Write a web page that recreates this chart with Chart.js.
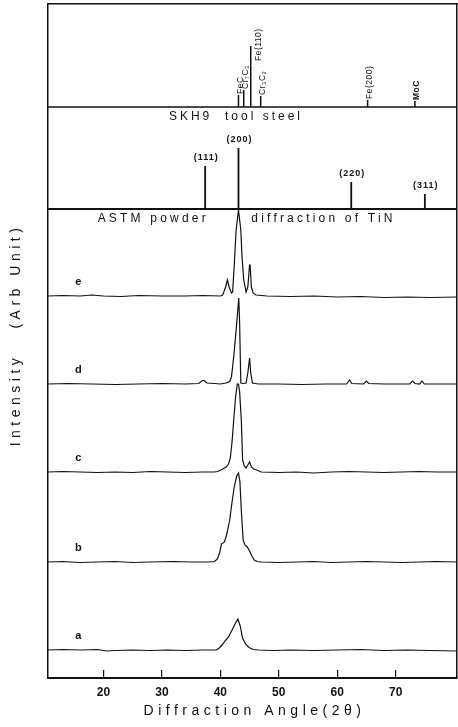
<!DOCTYPE html>
<html>
<head>
<meta charset="utf-8">
<script src="https://cdn.jsdelivr.net/npm/chart.js@4.4.1/dist/chart.umd.min.js"></script>
<style>
  html, body { margin: 0; padding: 0; background: #fff; }
  canvas { display: block; }
</style>
</head>
<body>
<canvas id="xrd" width="458" height="727"></canvas>
<script>
// x range of the plot (2 theta, degrees) and tick labels
var xMin = 10.5, xMax = 80.5;
var xTicks = [20, 30, 40, 50, 60, 70];

// reference stick patterns: peak positions, relative heights, names
var skhPeaks = [43.1, 44.0, 45.2, 46.9, 65.2, 73.3];
var skhHeights = [12, 17, 61, 11, 7, 6];
var skhNames = ['FeC', 'Cr\u2087C\u2083', 'Fe(110)', 'Cr\u2083C\u2082', 'Fe(200)', 'MoC'];

var tinPeaks = [37.4, 43.1, 62.4, 75.0];
var tinHeights = [43, 61, 27, 15];
var tinNames = ['(111)', '(200)', '(220)', '(311)'];

// measured patterns [2theta, intensity] (arb. unit)
var traceA = [[10.5,0],[13,0.5],[16,0],[19,0.5],[20.5,-1],[22,-0.5],[25,0],[28,-0.5],[31,0],[34,-0.5],[37,0],
  [39.3,0],[39.8,2],[40.3,5],[40.8,9],[41.4,13],[42.0,20],[42.6,27],[43.0,31],[43.4,24],[43.8,12],[44.3,6],
  [44.9,2.5],[45.6,0.5],[46.5,0],[49,-0.5],[52,0],[56,-0.5],[60,0],[64,0.5],[68,-0.5],[72,0],[76,-0.5],[80.5,-1]];
var traceB = [[10.5,0],[13,0.5],[16,-0.5],[19,0],[22,0.5],[25,-0.5],[28,0],[32,0.5],[35,0],[38,0],[39.0,0.5],
  [39.5,3],[39.9,10],[40.2,18],[40.7,20],[41.1,28],[41.6,42],[42.0,60],[42.4,76],[42.8,86],[43.1,89],[43.35,80],
  [43.6,50],[43.9,22],[44.2,17],[44.6,15],[45.0,11],[45.4,6],[45.8,2],[46.3,0.5],[47,0],[50,-0.5],[53,0],
  [56,0.5],[59,-0.5],[62,0],[65,0.5],[68,0],[71,-0.5],[74,0],[77,0.5],[80.5,0]];
var traceC = [[10.5,0],[13,0.5],[16,0],[19,-0.5],[22,0],[25,-0.5],[28,0.5],[31,0],[34,-0.5],[37,0],[39,0],
  [39.5,0.5],[40.4,3],[41.0,5],[41.4,8],[41.7,14],[42.0,30],[42.3,53],[42.6,75],[42.9,88],[43.1,88],[43.3,80],
  [43.6,50],[43.8,12],[44.1,6],[44.4,4],[44.8,8],[45.0,10],[45.3,5],[45.7,3],[46.2,2],[47,0],[50,-0.5],[53,0],
  [56,-1],[59,0],[62,0.5],[65,0],[68,-0.5],[71,0],[74,0.5],[77,0],[80.5,0]];
var traceD = [[10.5,0],[14,0.5],[18,0],[22,-0.5],[26,0],[30,0.5],[34,0],[36.3,0.5],[36.8,3],[37.2,3.5],
  [37.7,1],[39,0.5],[40,0],[41.0,1],[41.6,2.5],[41.9,7],[42.3,28],[42.7,54],[43.15,86],[43.3,60],[43.5,1],
  [44.0,0.5],[44.4,1],[44.7,11],[45.0,26],[45.2,11],[45.5,1],[46.5,0],[50,0],[54,-0.5],[58,0],[61.6,0],
  [62.1,4],[62.5,0.5],[64.5,0],[65.0,3],[65.4,0.5],[68,0],[72.4,0],[72.9,3],[73.3,0.5],[74.1,0],[74.5,3],
  [74.9,0],[77,0],[80.5,0]];
var traceE = [[10.5,0],[13,0.5],[16,0],[18,1],[20,0],[23,-0.5],[26,0.5],[30,0],[34,0],[37,0.5],[40,0],
  [40.4,1],[40.9,9],[41.2,16],[41.5,9],[41.9,3],[42.1,4],[42.4,33],[42.7,66],[43.1,86],[43.5,66],[43.7,40],
  [44.0,16],[44.4,4],[44.7,9],[45.0,31],[45.1,31],[45.3,9],[45.6,3],[46.1,1],[48,0],[52,-0.5],[56,0],
  [60,-1],[64,-0.5],[68,-1.5],[72,-1],[76,-1.5],[80.5,-1]];

var traceNames = ['a', 'b', 'c', 'd', 'e'];
var traces = [traceA, traceB, traceC, traceD, traceE];

// vertical stacking of the panels (y scale runs 0..674)
var traceOffsets = [28, 116, 206, 294, 382];
var tinOffset = 469, skhOffset = 571;

function shifted(points, offset) {
    return points.map(function(p) { return {x: p[0], y: offset + p[1]}; });
}
function stickLine(pos, h, offset) {
    var pts = [{x: xMin, y: offset}];
    pos.forEach(function(t, i) {
        pts.push({x: t, y: offset}, {x: t, y: offset + h[i]}, {x: t, y: offset});
    });
    pts.push({x: xMax, y: offset});
    return pts;
}

var datasets = traces.map(function(t, i) {
    return {label: traceNames[i], data: shifted(t, traceOffsets[i]), borderColor: '#111', borderWidth: 1.2};
});
datasets.push({label: 'TiN', data: stickLine(tinPeaks, tinHeights, tinOffset), borderColor: '#111', borderWidth: 1.8});
datasets.push({label: 'SKH9', data: stickLine(skhPeaks, skhHeights, skhOffset), borderColor: '#111', borderWidth: 1.5});

function drawText(ctx, str, px, py, font, spacing, align, rot) {
    ctx.save();
    ctx.translate(px, py);
    if (rot) ctx.rotate(rot);
    ctx.font = font;
    ctx.letterSpacing = spacing + 'px';
    ctx.textAlign = align;
    ctx.textBaseline = 'middle';
    ctx.fillText(str, 0, 0);
    ctx.restore();
}

var annotate = {
    id: 'annotate',
    afterDraw: function(chart) {
        var ctx = chart.ctx, x = chart.scales.x, y = chart.scales.y, area = chart.chartArea;
        ctx.save();
        ctx.fillStyle = '#111';
        var F = '"Liberation Sans", Arial, sans-serif';

        // panel letters
        traceNames.forEach(function(n, i) {
            drawText(ctx, n, x.getPixelForValue(15.7), y.getPixelForValue(traceOffsets[i]) - 14, 'bold 11px ' + F, 0, 'center');
        });

        // TiN stick labels
        tinNames.forEach(function(n, i) {
            drawText(ctx, n, x.getPixelForValue(tinPeaks[i]) + 1, y.getPixelForValue(tinOffset + tinHeights[i]) - 8,
                'bold 9px ' + F, 1, 'center');
        });

        // SKH9 stick labels (rotated)
        skhNames.forEach(function(n, i) {
            var px = x.getPixelForValue(skhPeaks[i]) + 2;
            var py = y.getPixelForValue(skhOffset + skhHeights[i]) - 1;
            if (n === 'Fe(110)') { px += 6; py += 16; }
            drawText(ctx, n, px, py, (n === 'MoC' ? 'bold ' : '') + '8.5px ' + F, 0.5, 'left', -Math.PI / 2);
        });

        // pattern captions
        var tinY = y.getPixelForValue(tinOffset) + 10;
        drawText(ctx, 'ASTM powder', x.getPixelForValue(19.0), tinY, '12px ' + F, 3.2, 'left');
        drawText(ctx, 'diffraction of TiN', x.getPixelForValue(45.3), tinY, '12px ' + F, 3.2, 'left');
        drawText(ctx, 'SKH9  tool steel', x.getPixelForValue(31.2), y.getPixelForValue(skhOffset) + 10, '12px ' + F, 3, 'left');

        // axis titles
        drawText(ctx, 'Diffraction Angle(2\u03b8)', (area.left + area.right) / 2 + 2, 711, '14px ' + F, 4.5, 'center');
        drawText(ctx, 'Intensity   (Arb Unit)', 16, (area.top + area.bottom) / 2 - 6, '14px ' + F, 4.5, 'center', -Math.PI / 2);
        ctx.restore();
    }
};

var ctx = document.getElementById('xrd').getContext('2d');
new Chart(ctx, {
    type: 'scatter',
    data: {datasets: datasets},
    options: {
        responsive: false,
        devicePixelRatio: 1,
        animation: false,
        showLine: true,
        elements: {point: {radius: 0}, line: {tension: 0, fill: false}},
        layout: {padding: {top: 4, right: 1, left: 0, bottom: 0}},
        plugins: {legend: {display: false}, tooltip: {enabled: false}},
        scales: {
            x: {
                type: 'linear', position: 'bottom', min: xMin, max: xMax,
                afterBuildTicks: function(s) { s.ticks = xTicks.map(function(v) { return {value: v}; }); },
                afterFit: function(s) { s.height = 49; },
                grid: {display: true, drawOnChartArea: false, drawTicks: true, tickLength: -8, color: '#111', lineWidth: 1.2},
                border: {display: true, color: '#111', width: 2},
                ticks: {color: '#111', padding: 15, font: {family: '"Liberation Sans", Arial, sans-serif', size: 12, weight: 'bold'}}
            },
            y: {
                type: 'linear', position: 'left', min: 0, max: 674,
                afterFit: function(s) { s.width = 48; },
                grid: {display: false},
                ticks: {display: false},
                border: {display: true, color: '#111', width: 1.5}
            },
            x2: {
                type: 'linear', position: 'top', min: xMin, max: xMax,
                afterFit: function(s) { s.height = 0; },
                grid: {display: false}, ticks: {display: false},
                border: {display: true, color: '#111', width: 1.5}
            },
            y2: {
                type: 'linear', position: 'right', min: 0, max: 674,
                afterFit: function(s) { s.width = 0; },
                grid: {display: false}, ticks: {display: false},
                border: {display: true, color: '#111', width: 1.5}
            }
        }
    },
    plugins: [annotate]
});
</script>
</body>
</html>
